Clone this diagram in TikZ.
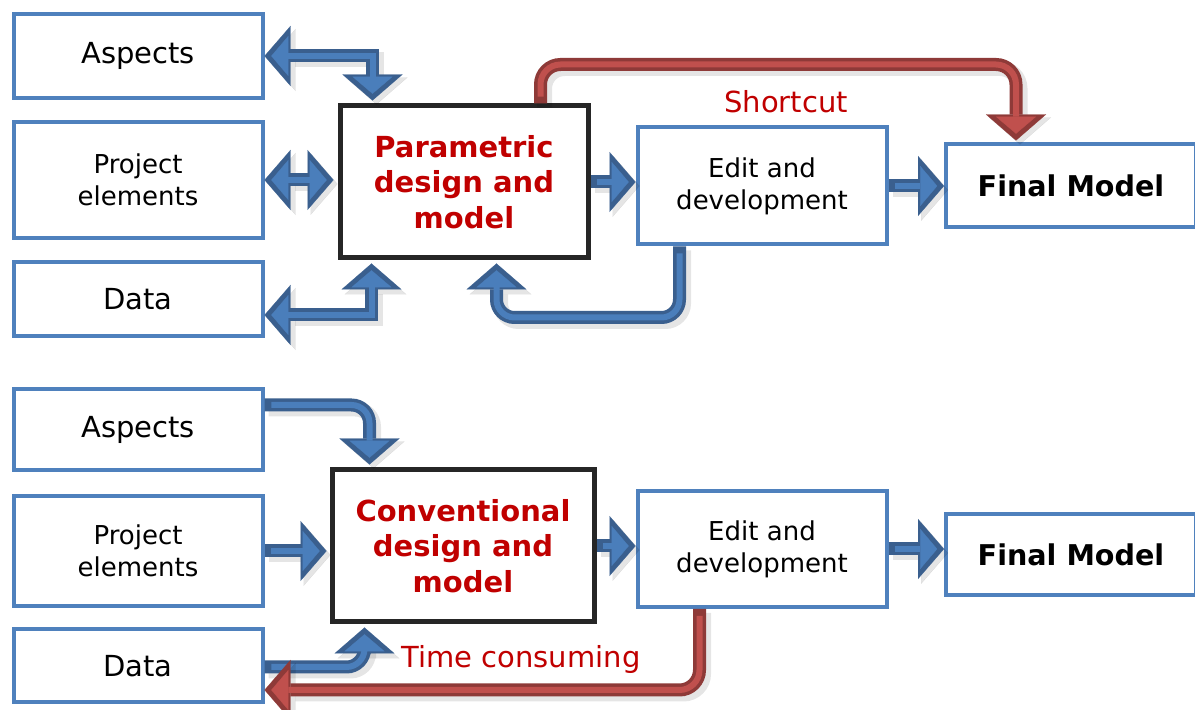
\documentclass[tikz,border=0pt]{standalone}
\usepackage{fontspec}
\setmainfont{DejaVu Sans}
\usetikzlibrary{arrows.meta,calc}

\definecolor{boxblue}{HTML}{4F81BD}
\definecolor{arrblue}{HTML}{4A7EBB}
\definecolor{arrdark}{HTML}{3A5F8E}
\definecolor{arrred}{HTML}{C0504D}
\definecolor{arrdarkred}{HTML}{8E3A38}
\definecolor{textred}{HTML}{C00000}

% 太い矢印 (影, 外側, 内側)
\newcommand{\fatarrow}[4]{%
  \draw[shadowfat, #3] #4;
  \draw[outerfat, draw=#1, #3] #4;
  \draw[innerfat, draw=#2, #3] #4;}

\begin{document}
\begin{tikzpicture}[x=0.5pt, y=-0.5pt,
    bbox/.style={draw=boxblue, line width=2pt, fill=white, minimum width=124.5pt,
      align=center, font=\fontsize{13}{16}\selectfont},
    mainbox/.style={draw=black!85, line width=2.5pt, fill=white, align=center,
      text=textred, font=\fontsize{14.5}{17.75}\selectfont\bfseries},
    finbox/.style={bbox, minimum width=125pt, font=\fontsize{14.3}{17}\selectfont\bfseries},
    outerfat/.style={line width=6.5pt, >={Triangle[width=30pt,length=13pt,line width=0.1pt]}},
    innerfat/.style={line width=3pt, shorten >=3.4pt, shorten <=3.4pt,
      >={Triangle[width=20pt,length=8.5pt,line width=0.1pt]}},
    shadowfat/.style={line width=7.5pt, draw=black, opacity=0.1,
      transform canvas={shift={(2pt,-2pt)}},
      >={Triangle[width=31pt,length=13.5pt,line width=0.1pt]}},
    lbl/.style={text=textred, font=\fontsize{14.5}{17}\selectfont}]
  \useasboundingbox (0,0) rectangle (1195,710);

  % 上の図
  \node[bbox, minimum height=42pt, font=\fontsize{14.5}{17}\selectfont] (asp1) at (138,56) {Aspects};
  \node[bbox, minimum height=58pt] (pro1) at (138,180) {Project\\elements};
  \node[bbox, minimum height=37pt, font=\fontsize{14.5}{17}\selectfont] (dat1) at (138,299) {Data};
  \node[mainbox, minimum width=124pt, minimum height=76pt] (par1) at (464,182) {Parametric\\design and\\model};
  \node[bbox, minimum height=58.5pt] (edi1) at (762,186) {Edit and\\development};
  \node[finbox, minimum height=41.5pt] (fin1) at (1071,186) {Final Model};
  \node[lbl] (lab1) at (786,102) {Shortcut};

  % 下の図
  \node[bbox, minimum height=40.5pt, font=\fontsize{14.5}{17}\selectfont] (asp2) at (138,430) {Aspects};
  \node[bbox, minimum height=55pt] (pro2) at (138,551) {Project\\elements};
  \node[bbox, minimum height=36.5pt, font=\fontsize{14.5}{17}\selectfont] (dat2) at (138,666) {Data};
  \node[mainbox, minimum width=131pt, minimum height=76pt] (con2) at (463,546) {Conventional\\design and\\model};
  \node[bbox, minimum height=58pt] (edi2) at (762,549) {Edit and\\development};
  \node[finbox, minimum height=40.5pt] (fin2) at (1071,555) {Final Model};
  \node[lbl] (lab2) at (521,660) {Time consuming};

  % 矢印を引く
  \fatarrow{arrdark}{arrblue}{<->}{(asp1.east) -| ($(par1.north west)+(35,-3)$)}
  \fatarrow{arrdark}{arrblue}{<->}{(pro1.east) -- ($(pro1.east -| par1.west)+(-4,0)$)}
  \fatarrow{arrdark}{arrblue}{<->}{($(dat1.east)+(0,16)$) -| ($(par1.south west)+(34,3)$)}
  \fatarrow{arrdark}{arrblue}{->}{(par1.east) -- (par1.east -| edi1.west)}
  \fatarrow{arrdark}{arrblue}{->}{(edi1.east) -- (edi1.east -| fin1.west)}
  \fatarrow{arrdark}{arrblue}{->, rounded corners=9pt}{($(edi1.south west)+(44,0)$) -- ++(0,71) -| ($(par1.south west)+(159,3)$)}
  \fatarrow{arrdarkred}{arrred}{->, rounded corners=10pt}{($(par1.north west)+(203,0)$) -- ++(0,-39) -| ($(fin1.north west)+(72,-2)$)}

  \fatarrow{arrdark}{arrblue}{->, rounded corners=9pt}{($(asp2.east)+(0,-25)$) -| ($(con2.north west)+(40,-3)$)}
  \fatarrow{arrdark}{arrblue}{->}{(pro2.east) -- ($(pro2.east -| con2.west)+(-3,0)$)}
  \fatarrow{arrdark}{arrblue}{->, rounded corners=9pt}{($(dat2.east)+(0,1)$) -| ($(con2.south west)+(35,3)$)}
  \fatarrow{arrdark}{arrblue}{->}{(con2.east) -- (con2.east -| edi2.west)}
  \fatarrow{arrdark}{arrblue}{->}{(edi2.east) -- (edi2.east -| fin2.west)}
  \fatarrow{arrdarkred}{arrred}{->, rounded corners=10pt}{($(edi2.south west)+(64,0)$) |- ($(dat2.east)+(0,24)$)}
\end{tikzpicture}
\end{document}
